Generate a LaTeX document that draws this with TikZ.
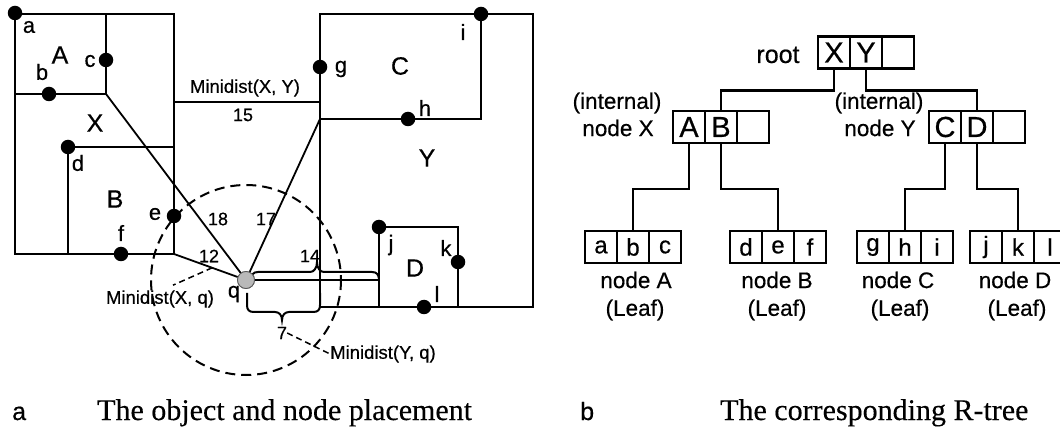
\documentclass[tikz,border=0pt]{standalone}
\usepackage{fontspec}
\setmainfont{Liberation Sans}[FakeBold=0.5]
\newfontfamily\capfont{Liberation Serif}[FakeBold=0.3]
\usetikzlibrary{calc}
\begin{document}
\begin{tikzpicture}[x=1pt,y=-1pt,
  ln/.style={line width=2.3pt},
  dot/.style={circle,fill=black,inner sep=0pt,minimum size=14.5pt},
  qdot/.style={circle,fill=gray!55,draw=gray!70!black,line width=0.8pt,inner sep=0pt,minimum size=17pt},
  plbl/.style={font=\fontsize{22}{22}\selectfont,inner sep=0pt},
  rlbl/.style={font=\fontsize{25}{25}\selectfont,inner sep=0pt},
  num/.style={font=\fontsize{18}{18}\selectfont,inner sep=0pt},
  mlbl/.style={font=\fontsize{18.5}{18.5}\selectfont,inner sep=0pt},
  cell/.style={draw,line width=2.2pt,minimum width=32pt,minimum height=32pt,inner sep=0pt,font=\fontsize{29}{29}\selectfont},
  lcell/.style={cell,font=\fontsize{24}{24}\selectfont},
  tlbl/.style={font=\fontsize{22.5}{22.5}\selectfont,inner sep=0pt},
  tree/.style={line width=2.2pt},
  dashln/.style={line width=2pt,dash pattern=on 10pt off 6pt},
  leader/.style={line width=1.5pt,dash pattern=on 6pt off 4pt},
  brc/.style={line width=2pt},
  caps/.style={anchor=base west,inner sep=0pt,font=\fontsize{25}{25}\selectfont},
  capt/.style={anchor=base west,inner sep=0pt,font=\capfont\fontsize{30}{30}\selectfont}
]
\useasboundingbox (0,0) rectangle (1060,430);

% ---------- left: objects and nodes ----------
\coordinate (Xtl) at (15,14);
\coordinate (Xbr) at (174,254);
\coordinate (Acorner) at (106,94);
\coordinate (Ytl) at (320,14);
\coordinate (Ybr) at (533,307);
\coordinate (Ccorner) at (320,119);
\coordinate (Dleft) at (379,280);

\node[qdot] (q) at (246,280) {};
\draw[dashln] (q) circle[radius=95];

% rectangles
\draw[ln] (Xtl) rectangle (Xbr);
\draw[ln] (106,14) -- (Acorner) -- (15,94);
\draw[ln] (68,254) -- (68,147) -- (174,147);
\draw[ln] (Ytl) rectangle (Ybr);
\draw[ln] (Ccorner) -- (481,119) -- (481,14);
\draw[ln] (379,307) -- (379,227) -- (458,227) -- (458,307);
\draw[ln] (174,102) -- (320,102);

% distance lines from q
\draw[line width=1.8pt] (q) -- (Acorner);
\draw[line width=1.8pt] (q) -- (Xbr);
\draw[line width=1.8pt] (q) -- (Ccorner);
\draw[line width=1.8pt] (q) -- (Dleft);

% braces
\draw[brc] (251,280) .. controls (251,275) and (253,272) .. (258,272) -- (310,272)
  .. controls (314,272) and (317,268) .. (317,262)
  .. controls (317,268) and (320,272) .. (324,272) -- (372,272)
  .. controls (377,272) and (379,275) .. (379,280);
\draw[brc] (247,293) -- (247,305) .. controls (247,310) and (249,312) .. (254,312) -- (275,312)
  .. controls (279,312) and (282,315) .. (282,320)
  .. controls (282,315) and (285,312) .. (289,312) -- (313,312)
  .. controls (318,312) and (320,310) .. (320,305) -- (320,293);

% dots
\node[dot] (a) at (15,13) {};
\node[dot] (b) at (49,94) {};
\node[dot] (c) at (106,60) {};
\node[dot] (d) at (68,147) {};
\node[dot] (e) at (174,216) {};
\node[dot] (f) at (121,254) {};
\node[dot] (g) at (320,67) {};
\node[dot] (h) at (408,119) {};
\node[dot] (i) at (481,14) {};
\node[dot] (j) at (379,227) {};
\node[dot] (k) at (458,262) {};
\node[dot] (l) at (424,307) {};
\node[qdot] at (q) {};

% point labels
\node[plbl] (la1) at (29,27) {a};
\node[plbl] (lb1) at (42,72) {b};
\node[plbl] (lc1) at (90,61) {c};
\node[plbl] (ld1) at (78,163) {d};
\node[plbl] (le1) at (155,214) {e};
\node[plbl] (lf1) at (121,233) {f};
\node[plbl] (lg1) at (341,69) {g};
\node[plbl] (lh1) at (425,108) {h};
\node[plbl] (li1) at (463,32) {i};
\node[plbl] (lj1) at (391,245) {j};
\node[plbl] (lk1) at (446,248) {k};
\node[plbl] (ll1) at (437,294) {l};
\node[plbl] (lq1) at (234,294) {q};

% region labels
\node[rlbl] (rA) at (60,55) {A};
\node[rlbl] (rXl) at (95,123) {X};
\node[rlbl] (rB) at (115,199) {B};
\node[rlbl] (rC) at (400,66) {C};
\node[rlbl] (rYl) at (427,158) {Y};
\node[rlbl] (rD) at (415,268) {D};

% numbers
\node[mlbl] (mxy) at (245,88) {Minidist(X, Y)};
\node[num] (n15) at (243,115) {15};
\node[num] (n18) at (218,219) {18};
\node[num] (n17) at (266,219) {17};
\node[num] (n12) at (209,256) {12};
\node[num] (n14) at (310,256) {14};
\node[num] (n7) at (282,333) {7};
\node[mlbl] (mxq) at (160,299) {Minidist(X, q)};
\node[mlbl] (myq) at (383,354) {Minidist(Y, q)};

\coordinate (p12) at ($(Xbr)!0.53!(q)$);
\coordinate (pxq) at ($(mxq.north)+(13,-5)$);
\draw[leader] (p12) -- (pxq);
\draw[leader] (n7.east) -- (myq.west);

% ---------- right: R-tree ----------
\node[cell] (rX) at (834,52.5) {X};
\node[cell] (rY) at (866,52.5) {Y};
\node[cell] (rZ) at (898,52.5) {};
\node[tlbl,font=\fontsize{25}{25}\selectfont] (root) at (778,55) {root};

\node[cell] (xA) at (689,127) {A};
\node[cell] (xB) at (721,127) {B};
\node[cell] (xZ) at (753,127) {};
\node[tlbl] (intX) at (617,103) {(internal)};
\node[tlbl] (ndX) at (618,128) {node X};

\node[cell] (yC) at (945,127) {C};
\node[cell] (yD) at (977,127) {D};
\node[cell] (yZ) at (1009,127) {};
\node[tlbl] (intY) at (879,103) {(internal)};
\node[tlbl] (ndY) at (880,128) {node Y};

\node[lcell] (ta) at (601,247) {a};
\node[lcell] (tb) at (633,247) {b};
\node[lcell] (tc) at (665,247) {c};
\node[lcell] (td) at (746,247) {d};
\node[lcell] (te) at (778,247) {e};
\node[lcell] (tf) at (810,247) {f};
\node[lcell] (tg) at (873,247) {g};
\node[lcell] (th) at (905,247) {h};
\node[lcell] (ti) at (937,247) {i};
\node[lcell] (tj) at (986,247) {j};
\node[lcell] (tk) at (1018,247) {k};
\node[lcell] (tl) at (1050,247) {l};

\node[tlbl] (nA) at (636,280) {node A};
\node[tlbl] (fA) at (635,310) {(Leaf)};
\node[tlbl] (nB) at (777,280) {node B};
\node[tlbl] (fB) at (777,310) {(Leaf)};
\node[tlbl] (nC) at (898,280) {node C};
\node[tlbl] (fC) at (900,310) {(Leaf)};
\node[tlbl] (nD) at (1015,280) {node D};
\node[tlbl] (fD) at (1017,310) {(Leaf)};

\draw[tree] (rX.south) -- ++(0,21) -| (xB.north);
\draw[tree] (rY.south) -- ++(0,21) -| (yD.north);
\draw[tree] (xA.south) -- ++(0,45) -| (tb.north);
\draw[tree] (xB.south) -- ++(0,45) -| (te.north);
\draw[tree] (yC.south) -- ++(0,45) -| (th.north);
\draw[tree] (yD.south) -- ++(0,45) -| (tk.north);

% ---------- captions ----------
\node[caps] (ca) at (12,420) {a};
\node[capt] (cat) at (97,420) {The object and node placement};
\node[caps] (cb) at (580,420) {b};
\node[capt] (cbt) at (720,420) {The corresponding R-tree};
\end{tikzpicture}
\end{document}
